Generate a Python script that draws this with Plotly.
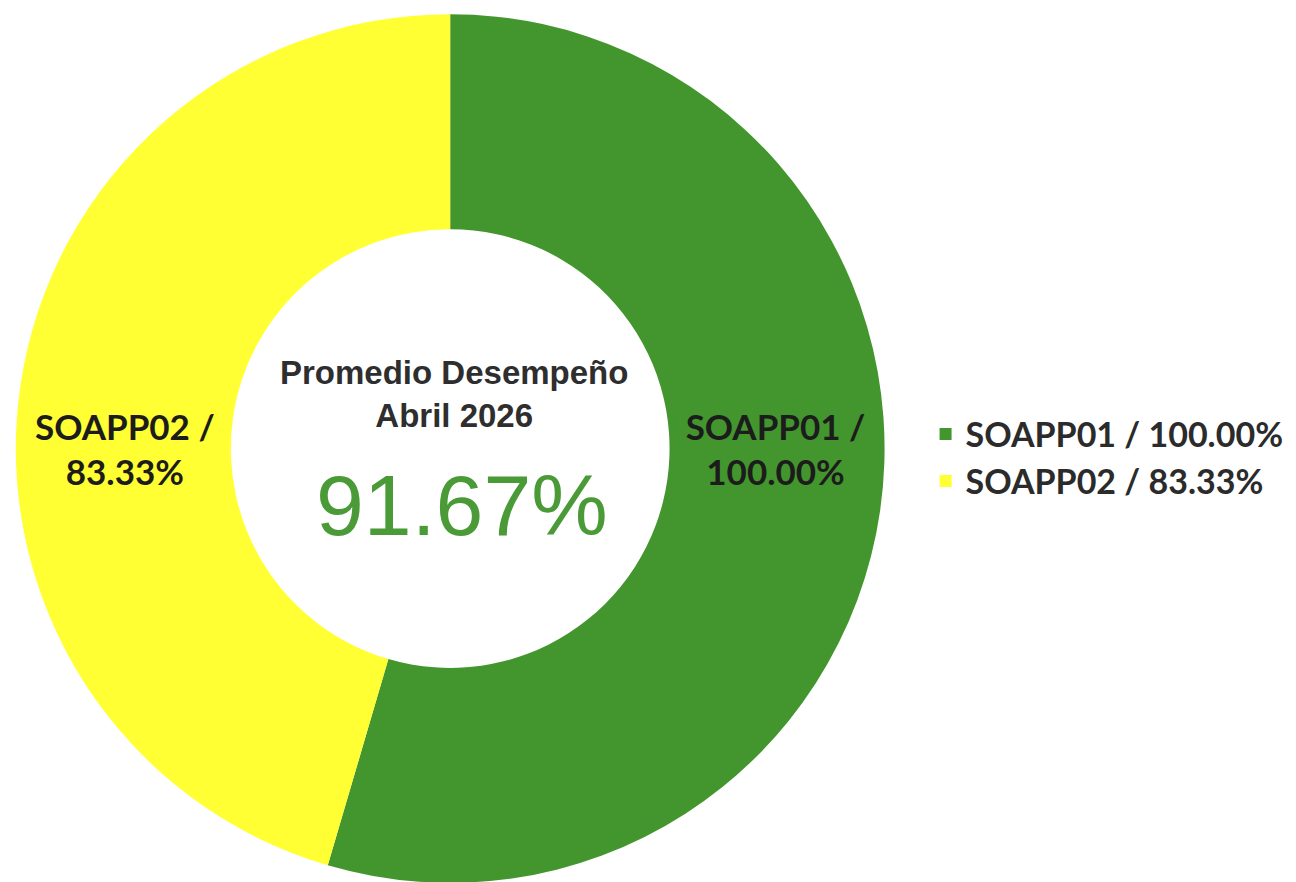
import plotly.graph_objects as go

# data
labels = ["SOAPP01 / 100.00%", "SOAPP02 / 83.33%"]
slice_text = ["SOAPP01 /<br>100.00%", "SOAPP02 /<br>83.33%"]
values = [100.00, 83.33]
colors = ["#43962e", "#ffff33"]

center_title = "Promedio Desempeño<br>Abril 2026"
center_value = "91.67%"

fig = go.Figure()

fig.add_trace(go.Pie(
    labels=labels,
    values=values,
    text=slice_text,
    textinfo="text",
    hole=0.505,
    sort=False,
    direction="clockwise",
    rotation=0,
    marker=dict(colors=colors, line=dict(width=0)),
    insidetextorientation="radial",
    textposition="inside",
    insidetextfont=dict(family="Lato", size=35, color="#1c1c1c", weight="bold"),
    domain=dict(x=[0.0054, 0.677], y=[0.008, 0.993]),
    hoverinfo="label"
))

# text in the hole
fig.add_annotation(
    x=0.3445, y=0.562, xref="paper", yref="paper",
    text=center_title, showarrow=False,
    font=dict(family="Liberation Sans", size=33, color="#2e2e2e", weight="bold"),
    align="center"
)
fig.add_annotation(
    x=0.3505, y=0.436, xref="paper", yref="paper",
    text=center_value, showarrow=False,
    font=dict(family="Liberation Sans", size=86, color="#4a9a38"),
    align="center"
)

fig.update_layout(
    width=1296,
    height=882,
    margin=dict(l=0, r=0, t=0, b=0),
    paper_bgcolor="white",
    plot_bgcolor="white",
    showlegend=True,
    legend=dict(
        x=0.708, y=0.49, xanchor="left", yanchor="middle",
        font=dict(family="Lato", size=34, color="#2b2b2b", weight="bold"),
        bgcolor="rgba(0,0,0,0)"
    )
)

fig.write_html("out.html")
